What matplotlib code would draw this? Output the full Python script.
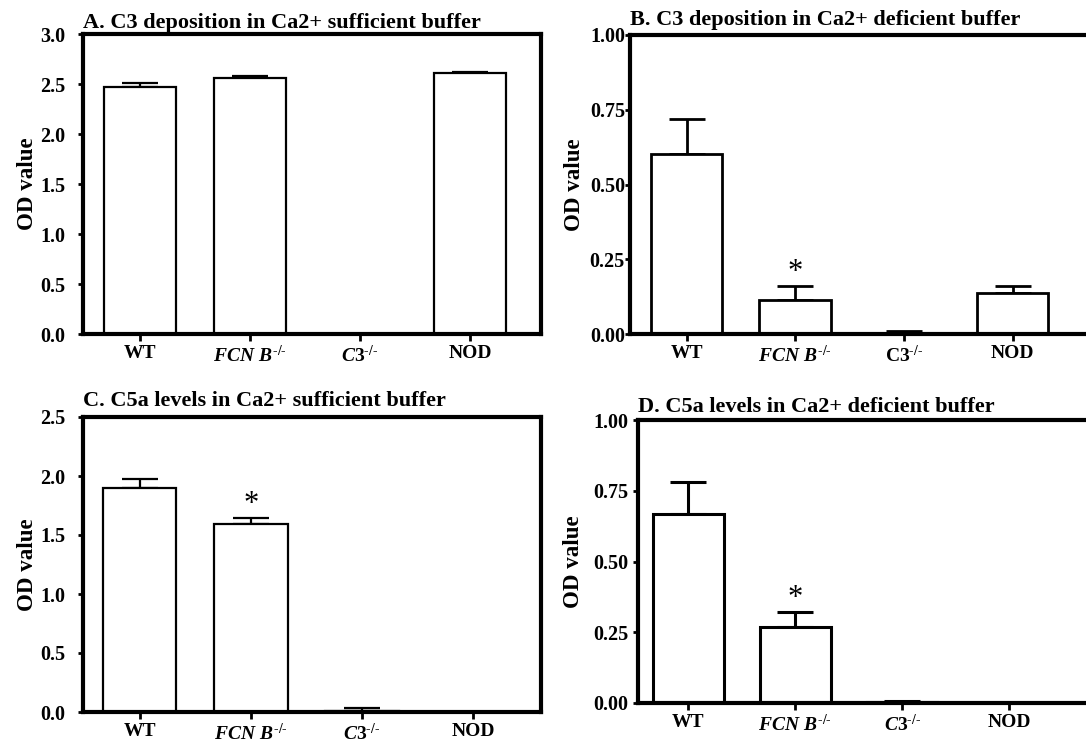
import numpy as np
import matplotlib
matplotlib.use('Agg')
import matplotlib.pyplot as plt

plt.rcParams['font.family'] = 'Liberation Serif'
plt.rcParams['font.weight'] = 'bold'
plt.rcParams['mathtext.fontset'] = 'custom'
plt.rcParams['mathtext.rm'] = 'Liberation Serif:bold'
plt.rcParams['mathtext.it'] = 'Liberation Serif:italic:bold'
plt.rcParams['mathtext.bf'] = 'Liberation Serif:bold'

#%% data
labels_it = ['WT', r'$\mathit{FCN\ B}^{\text{-/-}}$', r'$\mathit{C3}^{\text{-/-}}$', 'NOD']
labels_b = ['WT', r'$\mathit{FCN\ B}^{\text{-/-}}$', r'$\mathrm{C3}^{\text{-/-}}$', 'NOD']

a_mean = [2.47, 2.56, 0.0, 2.61]
a_err = [0.04, 0.025, 0.0, 0.012]

b_mean = [0.602, 0.113, 0.002, 0.138]
b_err = [0.117, 0.049, 0.008, 0.024]

c_mean = [1.90, 1.59, 0.005, 0.0]
c_err = [0.075, 0.055, 0.025, 0.0]

d_mean = [0.668, 0.268, 0.002, 0.0]
d_err = [0.112, 0.055, 0.006, 0.0]

W, H = 1086, 743
fig = plt.figure(figsize=(W / 100, H / 100), dpi=100)


def box(l, t, r, b):
    return [l / W, 1 - b / H, (r - l) / W, (b - t) / H]


panels = [
    dict(pos=box(83, 34, 541, 334), xlim=(-0.52, 3.645), ylim=3.0, yticks=np.arange(0, 3.01, 0.5),
         fmt='%.1f', mean=a_mean, err=a_err, star=False, labels=labels_it,
         title='A. C3 deposition in Ca2+ sufficient buffer', lw=1.6, pad=4, lab=-0.098, ypad=9),
    dict(pos=box(630, 35, 1094, 334), xlim=(-0.52, 3.75), ylim=1.0, yticks=np.arange(0, 1.01, 0.25),
         fmt='%.2f', mean=b_mean, err=b_err, star=True, labels=labels_b,
         title='B. C3 deposition in Ca2+ deficient buffer', lw=2.0, pad=7, lab=-0.0975, ypad=0),
    dict(pos=box(83, 417, 541, 712), xlim=(-0.51, 3.61), ylim=2.5, yticks=np.arange(0, 2.51, 0.5),
         fmt='%.1f', mean=c_mean, err=c_err, star=True, labels=labels_it,
         title='C. C5a levels in Ca2+ sufficient buffer', lw=1.6, pad=8, lab=-0.098, ypad=9),
    dict(pos=box(638, 420, 1100, 703), xlim=(-0.47, 3.85), ylim=1.0, yticks=np.arange(0, 1.01, 0.25),
         fmt='%.2f', mean=d_mean, err=d_err, star=True, labels=labels_it,
         title='D. C5a levels in Ca2+ deficient buffer', lw=2.2, pad=6, lab=-0.117, ypad=3.4),
]

for p in panels:
    ax = fig.add_axes(p['pos'])
    x = np.arange(len(p['mean']))
    ax.bar(x, p['mean'], width=0.66, color='white', edgecolor='black', linewidth=p['lw'], zorder=2)
    ax.errorbar(x, p['mean'], yerr=[np.zeros(len(x)), p['err']], fmt='none', ecolor='black',
                elinewidth=p['lw'], capsize=13, capthick=p['lw'], zorder=1)
    if p['star']:
        top = p['mean'][1] + p['err'][1] + 0.045 * p['ylim']
        ax.text(x[1], top, '*', ha='center', va='center', fontsize=22, fontweight='normal')
    ax.set_xlim(*p['xlim'])
    ax.set_ylim(0, p['ylim'])
    ax.set_xticks(x)
    ax.set_xticklabels(p['labels'], fontsize=14, fontweight='bold')
    ax.set_yticks(p['yticks'])
    ax.set_yticklabels([p['fmt'] % v for v in p['yticks']], fontsize=14.5, fontweight='bold')
    ax.tick_params(axis='x', direction='out', length=5, width=2, pad=3)
    ax.tick_params(axis='y', direction='out', length=3.6, width=2, pad=p['ypad'])
    for s in ax.spines.values():
        s.set_linewidth(3)
    ax.set_ylabel('OD value', fontsize=16.5, fontweight='bold')
    ax.yaxis.set_label_coords(p['lab'], 0.5)
    ax.set_title(p['title'], loc='left', fontsize=16, fontweight='bold', pad=p['pad'])

fig.savefig('out.png', dpi=100)
